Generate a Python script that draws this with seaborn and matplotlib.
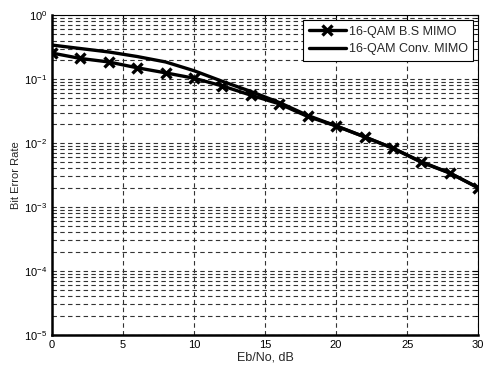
import numpy as np
import pandas as pd
import matplotlib
matplotlib.use("Agg")
import matplotlib.pyplot as plt
import seaborn as sns
from matplotlib.ticker import LogLocator, NullFormatter, FixedLocator

ebno = [0, 2, 4, 6, 8, 10, 12, 14, 16, 18, 20, 22, 24, 26, 28, 30]
ber_bs = [0.255, 0.21, 0.185, 0.15, 0.125, 0.103, 0.078, 0.056, 0.041,
          0.026, 0.0185, 0.0125, 0.0083, 0.005, 0.0034, 0.002]
ber_conv = [0.34, 0.30, 0.265, 0.225, 0.185, 0.135, 0.092, 0.064, 0.043,
            0.027, 0.0185, 0.0125, 0.0083, 0.0051, 0.0034, 0.002]
labels = ["16-QAM B.S MIMO", "16-QAM Conv. MIMO"]

df = pd.concat([
    pd.DataFrame({"x": ebno, "y": ber_bs, "s": labels[0]}),
    pd.DataFrame({"x": ebno, "y": ber_conv, "s": labels[1]}),
])

sns.set_style("white")
plt.rcParams['font.family'] = ['Liberation Sans', 'DejaVu Sans']
plt.rcParams['mathtext.fontset'] = 'custom'
plt.rcParams['mathtext.rm'] = 'Liberation Sans'
plt.rcParams['mathtext.it'] = 'Liberation Sans'
plt.rcParams['mathtext.default'] = 'regular'
plt.rcParams['axes.unicode_minus'] = False

fig = plt.figure(figsize=(4.85, 3.72), dpi=100)
ax = fig.add_axes([0.107, 0.0995, 0.879, 0.86])

ax.set_yscale("log")
ax.set_xlim(0, 30)
ax.set_ylim(1e-5, 1)

sns.lineplot(data=df[df.s == labels[0]], x="x", y="y", ax=ax, color="black",
             lw=2.4, linestyle="-", marker="x", markersize=7,
             markeredgewidth=2.4, markeredgecolor="black",
             label=labels[0], zorder=5)
sns.lineplot(data=df[df.s == labels[1]], x="x", y="y", ax=ax, color="black",
             lw=2.4, linestyle="-", label=labels[1], zorder=4)

ax.xaxis.set_major_locator(FixedLocator([0, 5, 10, 15, 20, 25, 30]))
ax.yaxis.set_major_locator(LogLocator(base=10, numticks=10))
ax.yaxis.set_minor_locator(LogLocator(base=10, subs=np.arange(2, 10), numticks=20))
ax.yaxis.set_minor_formatter(NullFormatter())

grid_kw = dict(color="0.2", linestyle=(0, (4, 3)), linewidth=0.8)
ax.grid(True, which="major", axis="both", **grid_kw)
ax.grid(True, which="minor", axis="y", **grid_kw)

ax.tick_params(axis="both", which="both", direction="in", top=True, right=True,
               labelsize=8, colors="black")
ax.tick_params(which="major", length=4, width=0.8)
ax.tick_params(which="minor", length=2, width=0.6)
for sp in ax.spines.values():
    sp.set_visible(True)
    sp.set_color("black")
ax.spines["left"].set_linewidth(1.8)
ax.spines["bottom"].set_linewidth(1.8)
ax.spines["top"].set_linewidth(0.8)
ax.spines["right"].set_linewidth(0.8)

ax.set_xlabel("Eb/No, dB", fontsize=9, labelpad=1)
ax.set_ylabel("Bit Error Rate", fontsize=8, labelpad=2)

leg = ax.legend(loc="upper right", fontsize=9, handlelength=3.0,
                frameon=True, fancybox=False, borderpad=0.45,
                labelspacing=0.45, handletextpad=0.2, borderaxespad=0.4)
leg.get_frame().set_edgecolor("black")
leg.get_frame().set_linewidth(0.8)
leg.get_frame().set_alpha(1)

fig.savefig("out.png", dpi=100)
